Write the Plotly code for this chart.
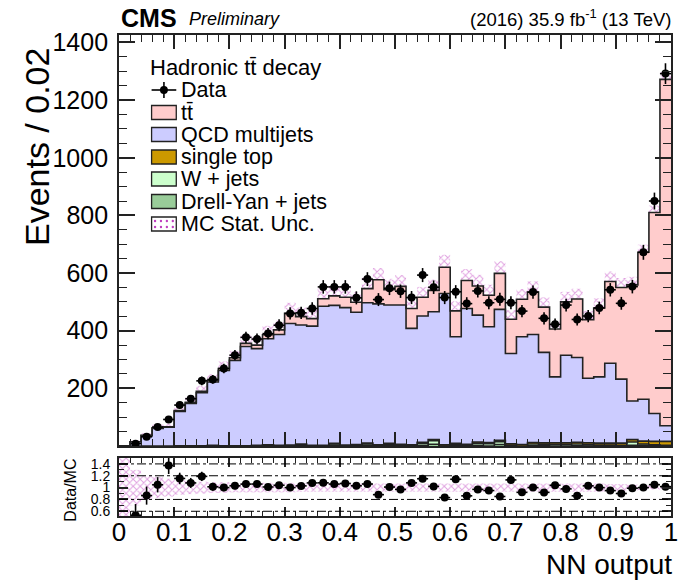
import numpy as np
import plotly.graph_objects as go

# ---------------- data (50 bins of width 0.02 on [0,1]) ----------------
bin_edges = [round(0.02 * i, 2) for i in range(51)]
data = [None, 8, 32, 66, 92, 142, 164, 226, 231, 269,
        315, 377, 371, 390, 419, 460, 462, 477, 552, 552,
        552, 514, 579, 508, 547, 537, 515, 593, 551, 515,
        535, 494, 538, 497, 509, 497, 468, 534, 443, 422,
        489, 439, 451, 479, 542, 495, 553, 672, 850, 1292]
ttbar = [0, 0, 1, 2, 2, 3, 4, 5, 6, 7,
         9, 11, 12, 14, 16, 35, 29, 26, 26, 33,
         36, 35, 49, 84, 53, 65, 69, 65, 74, 91,
         90, 97, 101, 109, 125, 119, 130, 147, 157, 166,
         185, 203, 203, 239, 284, 318, 403, 510, 697, 1202]
qcd = [0, 15, 36, 61, 65, 119, 147, 184, 220, 261,
       296, 344, 336, 368, 385, 422, 413, 414, 483, 479,
       477, 459, 487, 489, 480, 483, 404, 438, 444, 525,
       370, 471, 440, 402, 454, 313, 374, 375, 314, 229,
       304, 294, 224, 230, 277, 222, 134, 145, 97, 54]
single_top = [0, 0, 0, 0, 0, 1, 1, 1, 1, 1,
              1, 1, 1, 2, 2, 2, 2, 2, 2, 2,
              3, 3, 3, 3, 3, 3, 3, 3, 4, 4,
              4, 4, 4, 4, 5, 5, 5, 5, 5, 6,
              6, 6, 7, 7, 7, 8, 8, 10, 12, 14]
wjets = [0, 0, 0, 0, 0, 0, 0, 0, 1, 0,
         0, 0, 0, 2, 0, 1, 4, 0, 0, 5,
         0, 2, 5, 1, 4, 3, 1, 8, 12, 0,
         4, 2, 8, 8, 10, 3, 0, 6, 5, 5,
         5, 6, 4, 3, 3, 2, 12, 5, 3, 2]
dyjets = [0, 0, 0, 0, 0, 0, 0, 0, 0, 0,
          0, 0, 1, 0, 0, 0, 1, 0, 0, 2,
          0, 0, 2, 0, 2, 0, 0, 2, 6, 0,
          1, 0, 2, 0, 5, 0, 0, 1, 1, 0,
          0, 1, 0, 0, 0, 0, 2, 2, 1, 0]
mc_rel_unc = [1.0, 0.3, 0.2, 0.18, 0.15, 0.12, 0.11, 0.1, 0.09, 0.09,
              0.08, 0.08, 0.08, 0.08, 0.08, 0.08, 0.07, 0.07, 0.07, 0.07,
              0.07, 0.07, 0.07, 0.07, 0.07, 0.07, 0.07, 0.07, 0.07, 0.07,
              0.07, 0.07, 0.07, 0.07, 0.07, 0.07, 0.07, 0.07, 0.07, 0.07,
              0.07, 0.07, 0.07, 0.07, 0.06, 0.06, 0.05, 0.04, 0.03, 0.02]
main_yticks = [0, 200, 400, 600, 800, 1000, 1200, 1400]
ratio_yticks = [0.6, 0.8, 1.0, 1.2, 1.4]
ratio_ylabels = ["0.6", "0.8", "1", "1.2", "1.4"]
ratio_grid = [0.6, 0.8, 1.2, 1.4]

# stack order bottom -> top
layers = [
    ("Drell-Yan + jets", dyjets, "#99cc99"),
    ("W + jets", wjets, "#ccffcc"),
    ("single top", single_top, "#cc9900"),
    ("QCD multijets", qcd, "#ccccff"),
    ("t\u0074\u0304", ttbar, "#ffcccc"),
]

edges = np.array(bin_edges)
centers = 0.5 * (edges[:-1] + edges[1:])
width = edges[1] - edges[0]

W, H = 686, 583
ML, MR, MT, MB = 119, 8, 35, 67
PW, PH = W - ML - MR, H - MT - MB


def px(x):
    return (x - ML) / PW


def py(y):
    return (H - MB - y) / PH


fig = go.Figure()
font_family = "Liberation Sans, Arial, sans-serif"


def step(vals):
    v = list(vals)
    return list(edges), v + [v[-1]]


# baseline for stacked fills
bx, by = step(np.zeros(len(centers)))
fig.add_trace(go.Scatter(x=bx, y=by, mode="lines", line=dict(shape="hv", width=0),
                         xaxis="x", yaxis="y", showlegend=False, hoverinfo="skip"))
base = np.zeros(len(centers))
for name, vals, col in layers:
    base = base + np.array(vals, dtype=float)
    sx, sy = step(base)
    fig.add_trace(go.Scatter(x=sx, y=sy, mode="lines", fill="tonexty", fillcolor=col,
                             line=dict(shape="hv", color="#222", width=1.6),
                             xaxis="x", yaxis="y", showlegend=False, hoverinfo="skip"))
total = base.copy()

# MC stat uncertainty band
unc = total * np.array(mc_rel_unc)
hatch = dict(shape="x", fgcolor="#c040c0", bgcolor="rgba(255,255,255,0.35)", size=5, solidity=0.35)
fig.add_trace(go.Bar(x=centers, y=2 * unc, base=total - unc, width=width,
                     marker=dict(color="rgba(0,0,0,0)", line=dict(width=0), pattern=hatch),
                     xaxis="x", yaxis="y", showlegend=False, hoverinfo="skip"))

# data
d = np.array([np.nan if v is None else v for v in data], dtype=float)
derr = np.sqrt(d)
fig.add_trace(go.Scatter(x=centers, y=d, mode="markers",
                         marker=dict(color="black", size=8),
                         error_y=dict(type="data", array=derr, width=0, thickness=1.6, color="black"),
                         error_x=dict(type="constant", value=width / 2, width=0, thickness=1.6, color="black"),
                         xaxis="x", yaxis="y", showlegend=False, hoverinfo="skip"))

# ratio panel
rel = np.array(mc_rel_unc)
fig.add_trace(go.Bar(x=centers, y=2 * rel, base=1 - rel, width=width,
                     marker=dict(color="rgba(0,0,0,0)", line=dict(width=0), pattern=hatch),
                     xaxis="x2", yaxis="y2", showlegend=False, hoverinfo="skip"))
with np.errstate(divide="ignore", invalid="ignore"):
    ratio = np.where(total > 0, d / total, np.nan)
    rerr = np.where(total > 0, derr / total, np.nan)
fig.add_trace(go.Scatter(x=centers, y=ratio, mode="markers",
                         marker=dict(color="black", size=8),
                         error_y=dict(type="data", array=rerr, width=0, thickness=1.6, color="black"),
                         error_x=dict(type="constant", value=width / 2, width=0, thickness=1.6, color="black"),
                         xaxis="x2", yaxis="y2", showlegend=False, hoverinfo="skip", cliponaxis=True))

shapes = []
for g in ratio_grid:
    shapes.append(dict(type="line", xref="x2 domain", yref="y2", x0=0, x1=1, y0=g, y1=g,
                       line=dict(color="black", width=1, dash="dashdot"), layer="above"))

axis_common = dict(showline=True, linecolor="#222", linewidth=1.8, mirror="allticks",
                   ticks="inside", tickcolor="#222", showgrid=False, zeroline=False)

fig.update_layout(
    width=W, height=H, margin=dict(l=ML, r=MR, t=MT, b=MB),
    paper_bgcolor="white", plot_bgcolor="white", barmode="overlay",
    font=dict(family=font_family, color="black"),
    xaxis=dict(domain=[0, 1], anchor="y", range=[0, 1], tickmode="linear", tick0=0, dtick=0.1,
               ticklen=14, tickwidth=1.5, showticklabels=False,
               minor=dict(ticks="inside", tickmode="linear", tick0=0, dtick=0.02, ticklen=7, tickcolor="#222", tickwidth=1.2),
               **axis_common),
    yaxis=dict(domain=[py(446), 1], anchor="x", range=[0, 1426], tickmode="array",
               tickvals=main_yticks, ticktext=["" if t == 0 else str(t) for t in main_yticks],
               ticklen=16, tickwidth=1.5, tickfont=dict(size=25), ticklabelstandoff=4,
               minor=dict(ticks="inside", tickmode="linear", tick0=0, dtick=50, ticklen=8, tickcolor="#222", tickwidth=1.2),
               **axis_common),
    xaxis2=dict(domain=[0, 1], anchor="y2", range=[0, 1], tickmode="linear", tick0=0, dtick=0.1,
                ticklen=9, tickwidth=1.5, tickfont=dict(size=26), ticklabelstandoff=-8,
                minor=dict(ticks="inside", tickmode="linear", tick0=0, dtick=0.02, ticklen=5, tickcolor="#222", tickwidth=1.2),
                **axis_common),
    yaxis2=dict(domain=[0, py(458)], anchor="x2", range=[0.52, 1.5], tickmode="array",
                tickvals=ratio_yticks, ticktext=ratio_ylabels,
                ticklen=9, tickwidth=1.5, tickfont=dict(size=14), ticklabelstandoff=4,
                minor=dict(ticks="inside", tickmode="linear", tick0=0.5, dtick=0.1, ticklen=5, tickcolor="#222", tickwidth=1.2),
                **axis_common),
)

ann = []


def text(t, x, y, size, xanchor="left", angle=0, yanchor="middle"):
    ann.append(dict(text=t, x=px(x), y=py(y), xref="paper", yref="paper", showarrow=False,
                    xanchor=xanchor, yanchor=yanchor, textangle=angle,
                    font=dict(size=size, family=font_family, color="black")))


text("<b>CMS</b>", 119, 18, 25)
text("<i>Preliminary</i>", 188, 19, 18)
text("(2016) 35.9 fb<sup>-1</sup> (13 TeV)", 680, 18, 18.5, xanchor="right")
text("Events / 0.02", 36, 147, 34, xanchor="center", angle=-90)
text("NN output", 681, 564, 28, xanchor="right")
text("Data/MC", 69, 490, 16, xanchor="center", angle=-90)

# legend
text("Hadronic t\u0074\u0304 decay", 148, 67, 22)
leg_rows = [("Data", None, 90), ("t\u0074\u0304", "#ffcccc", 112.5), ("QCD multijets", "#ccccff", 134.5),
            ("single top", "#cc9900", 157), ("W + jets", "#ccffcc", 179), ("Drell-Yan + jets", "#99cc99", 201.5),
            ("MC Stat. Unc.", "hatch", 224)]
for label, col, yc in leg_rows:
    text(label, 180, yc, 21.5)
    if col is None:
        shapes.append(dict(type="line", xref="paper", yref="paper", x0=px(152), x1=px(177), y0=py(yc), y1=py(yc),
                           line=dict(color="black", width=1.6)))
        shapes.append(dict(type="line", xref="paper", yref="paper", x0=px(164.5), x1=px(164.5), y0=py(yc - 8), y1=py(yc + 8),
                           line=dict(color="black", width=1.6)))
        shapes.append(dict(type="circle", xref="paper", yref="paper", x0=px(160.5), x1=px(168.5), y0=py(yc - 4), y1=py(yc + 4),
                           fillcolor="black", line=dict(color="black", width=0)))
    elif col == "hatch":
        shapes.append(dict(type="rect", xref="paper", yref="paper", x0=px(152), x1=px(177), y0=py(yc - 7), y1=py(yc + 7),
                           fillcolor="white", line=dict(color="#222", width=1.3)))
        for i in range(4):
            for j in range(2):
                cx, cy = 155.5 + 6 * i, yc - 3 + 6 * j
                shapes.append(dict(type="circle", xref="paper", yref="paper", x0=px(cx - 1.2), x1=px(cx + 1.2),
                                   y0=py(cy - 1.2), y1=py(cy + 1.2), fillcolor="#c040c0", line=dict(width=0)))
    else:
        shapes.append(dict(type="rect", xref="paper", yref="paper", x0=px(152), x1=px(177), y0=py(yc - 7), y1=py(yc + 7),
                           fillcolor=col, line=dict(color="#222", width=1.3)))

fig.update_layout(annotations=ann, shapes=shapes)
fig.write_html("out.html")
